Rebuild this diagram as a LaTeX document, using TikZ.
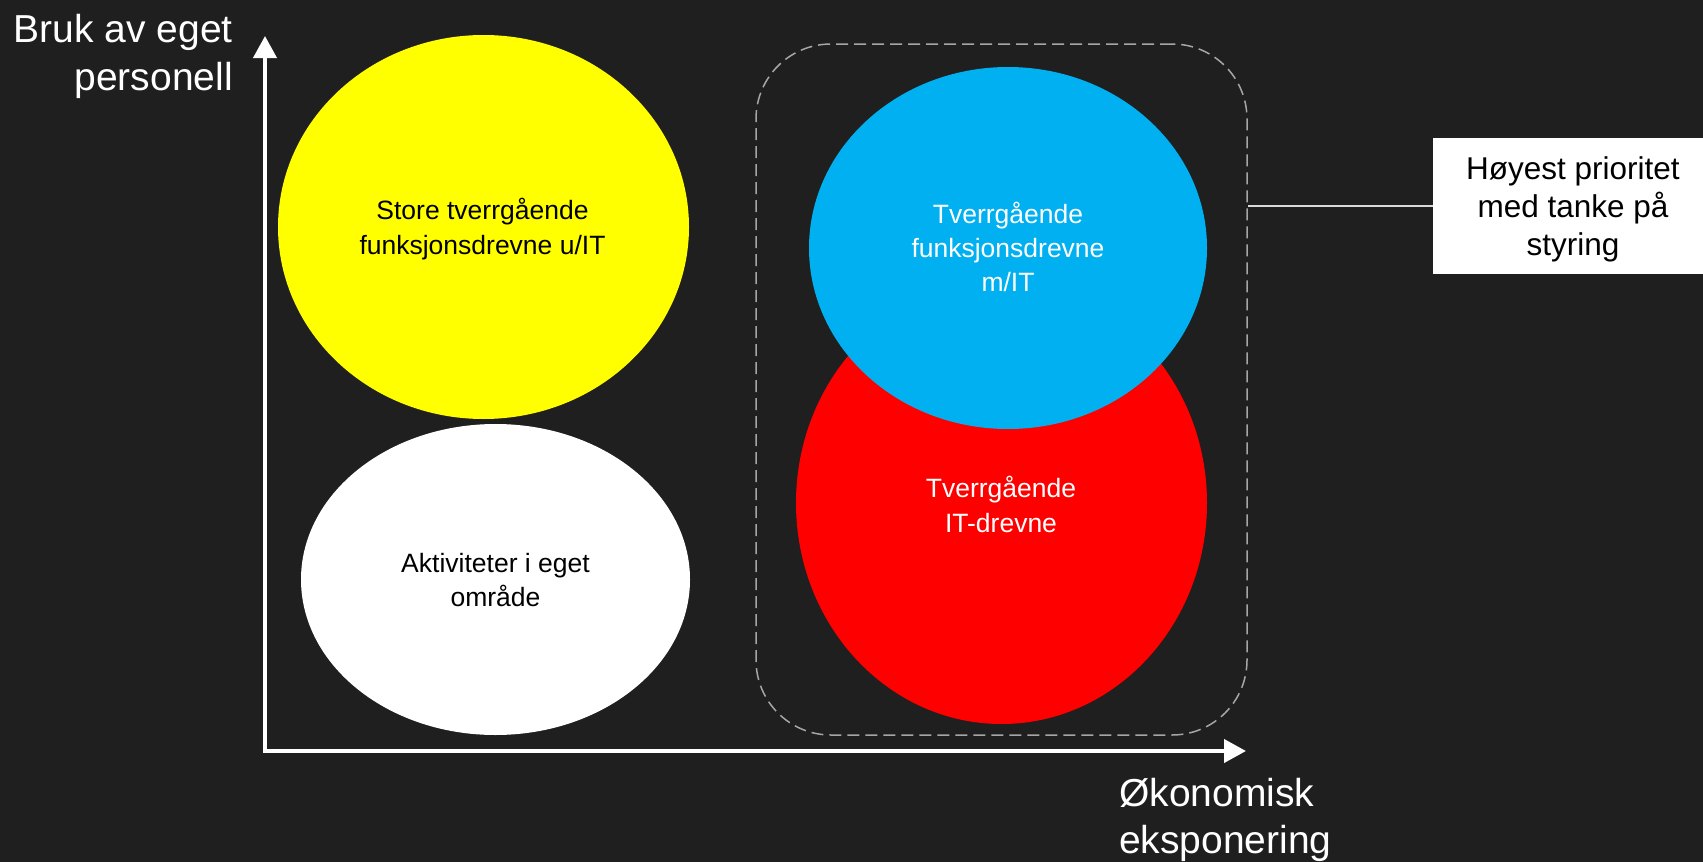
\documentclass[tikz,border=0pt]{standalone}
\usepackage{fontspec}
\setmainfont{Liberation Sans}
\usetikzlibrary{arrows.meta,shapes.geometric}
\definecolor{bg}{HTML}{1F1F1F}
\definecolor{cyel}{HTML}{FFFF00}
\definecolor{cblue}{HTML}{00B0F0}
\definecolor{cred}{HTML}{FF0000}
\definecolor{dashgray}{HTML}{A6A6A6}
\definecolor{conngray}{HTML}{D9D9D9}
\tikzset{
  blob/.style={ellipse, inner sep=0pt, outer sep=0pt, draw=none},
  axlab/.style={text=white, inner sep=0pt, font=\fontsize{39}{47}\selectfont},
  inlab/.style={inner sep=0pt, anchor=base, font=\fontsize{26.5}{34}\selectfont},
  priolab/.style={text=black, inner sep=0pt, anchor=base, font=\fontsize{31.5}{39}\selectfont},
  axisline/.style={draw=white, line width=4pt, line join=miter,
    {Triangle[length=22pt,width=23pt]}-{Triangle[length=22pt,width=23pt]}},
  groupbox/.style={draw=dashgray, line width=1.5pt, dash pattern=on 12pt off 6pt,
    rounded corners=75pt, inner sep=0pt, minimum width=491pt, minimum height=691pt},
  conn/.style={draw=conngray, line width=1.5pt},
  priobox/.style={fill=white, draw=none, inner sep=0pt, minimum width=270pt, minimum height=136pt}
}
\begin{document}
\begin{tikzpicture}[x=1pt,y=-1pt]
\fill[bg] (0,0) rectangle (1703,862);
\useasboundingbox (0,0) rectangle (1703,862);
\clip (0,0) rectangle (1703,862);

% ellipses
\node[blob, fill=cyel, minimum width=411pt, minimum height=384pt] (yel) at (483.5,227) {};
\node[blob, fill=white, minimum width=389pt, minimum height=311pt] (wht) at (495.5,579.5) {};
\node[blob, fill=cred, minimum width=411pt, minimum height=442pt] (red) at (1001.5,503) {};
\node[blob, fill=cblue, minimum width=398pt, minimum height=362pt] (blu) at (1008,248) {};

% texts in ellipses
\node[inlab, text=black] (yel1) at (482.5,219) {Store tverrgående};
\node[inlab, text=black] (yel2) at (482.5,254) {funksjonsdrevne u/IT};
\node[inlab, text=black] (wht1) at (495.5,572) {Aktiviteter i eget};
\node[inlab, text=black] (wht2) at (495.5,606) {område};
\node[inlab, text=white] (blu1) at (1008,223) {Tverrgående};
\node[inlab, text=white] (blu2) at (1008,257) {funksjonsdrevne};
\node[inlab, text=white] (blu3) at (1008,291) {m/IT};
\node[inlab, text=white] (red1) at (1001,497) {Tverrgående};
\node[inlab, text=white] (red2) at (1001,532) {IT-drevne};

% dashed group
\node[groupbox] (grp) at (1001.5,389.5) {};

% priority box
\node[priobox] (prio) at (1568,206) {};
\node[priolab] (prio1) at (1573,179) {Høyest prioritet};
\node[priolab] (prio2) at (1573,217) {med tanke på};
\node[priolab] (prio3) at (1573,255) {styring};
\draw[conn] (prio.west) -- (prio.west -| grp.east);

% axes
\coordinate (ytip) at (265,36);
\coordinate (orig) at (265,751);
\coordinate (xtip) at (1246,751);
\draw[axisline] (ytip) -- (orig) -- (xtip);

% axis labels
\node[axlab, anchor=base east] (ylab1) at (233,42) {Bruk av eget};
\node[axlab, anchor=base east] (ylab2) at (233,90) {personell};
\node[axlab, anchor=base west] (xlab1) at (1119,806) {Økonomisk};
\node[axlab, anchor=base west] (xlab2) at (1119,853) {eksponering};
\end{tikzpicture}
\end{document}
